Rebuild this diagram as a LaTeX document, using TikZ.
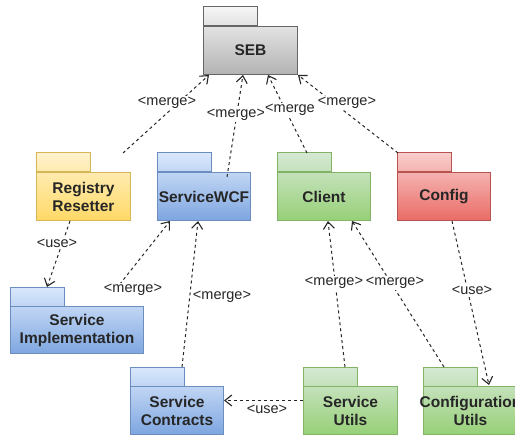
\documentclass[tikz,border=0pt]{standalone}
\usepackage{fontspec}
\setmainfont{Liberation Sans}
\usetikzlibrary{arrows.meta,calc}

% package palettes: top of tab, bottom of body, outline
\definecolor{grayTop}{HTML}{F5F5F5}
\definecolor{grayBot}{HTML}{B3B3B3}
\definecolor{grayLine}{HTML}{666666}
\definecolor{yellowTop}{HTML}{FFF2CC}
\definecolor{yellowBot}{HTML}{FFD966}
\definecolor{yellowLine}{HTML}{D6B656}
\definecolor{blueTop}{HTML}{DAE8FC}
\definecolor{blueBot}{HTML}{7EA6E0}
\definecolor{blueLine}{HTML}{6C8EBF}
\definecolor{greenTop}{HTML}{D5E8D4}
\definecolor{greenBot}{HTML}{97D077}
\definecolor{greenLine}{HTML}{82B366}
\definecolor{redTop}{HTML}{F8CECC}
\definecolor{redBot}{HTML}{EA6B66}
\definecolor{redLine}{HTML}{B85450}
\colorlet{grayMid}{grayBot!28!grayTop}
\colorlet{yellowMid}{yellowBot!28!yellowTop}
\colorlet{blueMid}{blueBot!28!blueTop}
\colorlet{greenMid}{greenBot!28!greenTop}
\colorlet{redMid}{redBot!28!redTop}

\tikzset{
  pkgbody/.style={rectangle, line width=1pt, inner sep=0pt, anchor=north west},
  pkgtext/.style={align=center, text=black!85, inner sep=0pt,
    font=\bfseries\fontsize{15.5}{18}\selectfont},
  dep/.style={draw=black!85, line width=1pt, dash pattern=on 3pt off 3pt,
    -{Straight Barb[length=7pt,width=11pt,line width=1.1pt]}},
  lbl/.style={fill=white, inner sep=1pt, text=black!85,
    font=\fontsize{14.5}{16}\selectfont},
}

% UML package: name, tab left, tab top, body width, body height, palette, text
\newcommand\umlpackage[7]{%
  \path[draw=#6Line, line width=1pt, top color=#6Top, bottom color=#6Mid]
    (#2,#3) rectangle ++(54,19);
  \node[pkgbody, minimum width=#4pt, minimum height=#5pt, draw=#6Line,
    top color=#6Mid, bottom color=#6Bot] (#1) at (#2,#3+19) {};
  \node[pkgtext] (#1-text) at (#1.center) {#7};
}

\begin{document}
\begin{tikzpicture}[x=1pt,y=-1pt]
\useasboundingbox (0,0) rectangle (515,436);

% packages
\umlpackage{seb}{203}{7}{94}{48}{gray}{SEB}
\umlpackage{rr}{36}{153}{94}{48}{yellow}{Registry\\Resetter}
\umlpackage{wcf}{157}{153}{93}{48}{blue}{ServiceWCF}
\umlpackage{client}{277}{153}{93}{48}{green}{Client}
\umlpackage{config}{397}{153}{93}{48}{red}{Config}
\umlpackage{simpl}{10}{287}{133}{47}{blue}{Service\\Implementation}
\umlpackage{scon}{130}{367}{93}{48}{blue}{Service\\Contracts}
\umlpackage{sutil}{303}{367}{94}{48}{green}{Service\\Utils}
\umlpackage{cutil}{423}{367}{94}{48}{green}{Configuration\\Utils}

% merges into SEB
\draw[dep] ($(rr.north east)+(-8,-19)$) -- ($(seb.south west)+(6,0)$)
  node[lbl] at (167,103) {<merge>};
\draw[dep] ($(wcf.north west)+(70,5)$) -- ($(seb.south west)+(40,0)$)
  node[lbl] at (236,115) {<merge>};
\draw[dep] ($(client.north west)+(30,-19)$) -- ($(seb.south west)+(65,0)$)
  node[lbl] at (290,110) {<merge};
\draw[dep] ($(config.north west)+(1,-19)$) -- ($(seb.south east)+(0,0)$)
  node[lbl] at (347,103) {<merge>};

% left column
\draw[dep] ($(rr.south west)+(34,0)$) -- ($(simpl.north west)+(37,-19)$)
  node[lbl] at (57,243) {<use>};
\coordinate (simplout) at ($(simpl.north west)+(106,-17)$);
\draw[dep] (simplout) -- ($(wcf.south west)+(13,0)$)
  node[lbl] at (133,290) {<merge>};
\draw[dep] ($(scon.north west)+(52,-19)$) -- ($(wcf.south west)+(41,0)$)
  node[lbl] at (222,297) {<merge>};

% right column
\draw[dep] ($(sutil.north west)+(42,-19)$) -- ($(client.south west)+(51,0)$)
  node[lbl] at (334,283) {<merge>};
\draw[dep] ($(cutil.north west)+(21,-19)$) -- ($(client.south west)+(75,0)$)
  node[lbl] at (395,283) {<merge>};
\draw[dep] ($(config.south west)+(55,0)$) -- ($(cutil.north west)+(66,-1)$)
  node[lbl] at (472,290) {<use>};

% bottom row
\draw[dep] ($(sutil.west)+(0,-10)$) -- ($(scon.east)+(0,-10)$)
  node[lbl] at (267,409) {<use>};
\end{tikzpicture}
\end{document}
